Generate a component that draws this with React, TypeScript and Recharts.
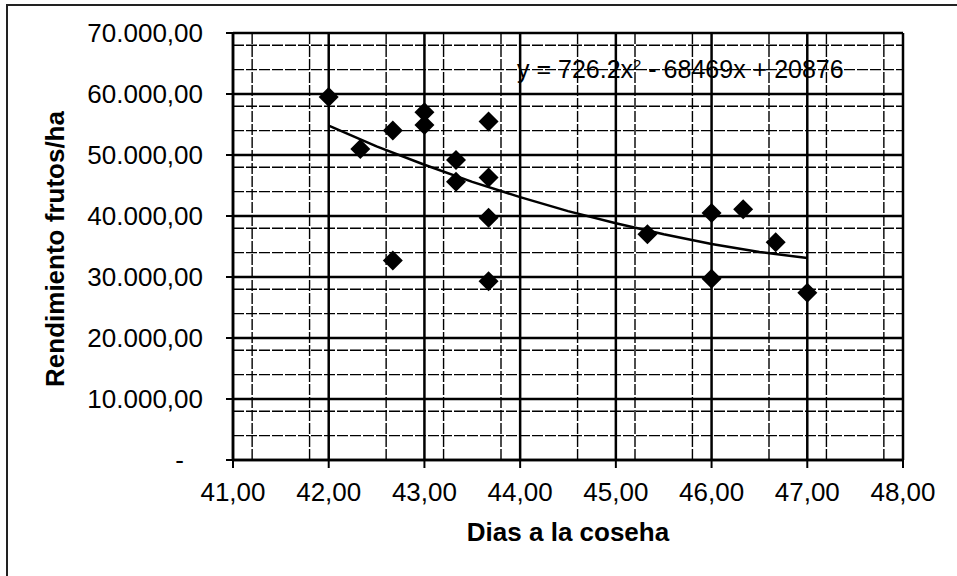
import React from "react";
import { CartesianGrid, Scatter, ScatterChart, XAxis, YAxis } from "recharts";

// days to harvest vs fruit yield per hectare
const dias = [42.0, 42.33, 42.67, 42.67, 43.0, 43.0, 43.33, 43.33, 43.67, 43.67, 43.67, 43.67, 45.33, 46.0, 46.0, 46.33, 46.67, 47.0];
const rendimiento = [59500, 51000, 54000, 32700, 57000, 54900, 49200, 45600, 55500, 46300, 39700, 29300, 37000, 40500, 29700, 41100, 35700, 27400];

// polynomial trend line as drawn in the original
const tendenciaDias = [42, 42.5, 43, 43.5, 44, 44.5, 45, 45.5, 46, 46.5, 47];
const tendenciaValores = [54800, 51400, 48400, 45600, 43100, 40800, 38800, 37000, 35400, 34100, 33100];

const xTicks = [41, 42, 43, 44, 45, 46, 47, 48];
const yTicks = [0, 10000, 20000, 30000, 40000, 50000, 60000, 70000];

const puntos = dias.map((d, i) => ({ x: d, y: rendimiento[i] }));
const tendencia = tendenciaDias.map((d, i) => ({ x: d, y: tendenciaValores[i] }));

const minorX: number[] = [];
for (let i = 0; i < 35; i++) {
  const v = Math.round((41 + i * 0.2) * 10) / 10;
  if (!xTicks.includes(v)) minorX.push(v);
}
const minorY: number[] = [];
for (let v = 0; v <= 70000; v += 2000) {
  if (v % 10000 !== 0) minorY.push(v);
}

const FONT = "'Liberation Sans', Arial, sans-serif";

const fmtMiles = (v: number) => String(Math.round(v)).replace(/\B(?=(\d{3})+(?!\d))/g, ".") + ",00";
const fmtDias = (v: number) => v.toFixed(2).replace(".", ",");

function Diamond(props: any) {
  const { cx, cy } = props;
  const r = 10;
  return <polygon points={`${cx},${cy - r} ${cx + r},${cy} ${cx},${cy + r} ${cx - r},${cy}`} fill="#000" />;
}

function YTick(props: any) {
  const { x, y, payload } = props;
  const v = payload.value;
  if (v === 0) {
    return (
      <text x={x - 19} y={y} dy="0.355em" textAnchor="end" fontSize={26} fontFamily={FONT} fill="#000">
        -
      </text>
    );
  }
  return (
    <text x={x} y={y} dy="0.355em" textAnchor="end" fontSize={26} fontFamily={FONT} fill="#000">
      {fmtMiles(v)}
    </text>
  );
}

export default function App() {
  return (
    <div style={{ position: "absolute", left: 0, top: 0, width: 957, height: 576, overflow: "hidden", background: "#fff" }}>
      <div
        style={{
          position: "absolute",
          left: 6,
          top: 4,
          width: 980,
          height: 600,
          borderLeft: "2px solid #222",
          borderTop: "2px solid #222",
        }}
      />
      <ScatterChart width={957} height={576} margin={{ top: 33, right: 54, bottom: 0, left: 0 }}>
        <CartesianGrid horizontalValues={minorY} verticalValues={minorX} stroke="#000" strokeWidth={1.4} strokeDasharray="11 2" />
        <CartesianGrid horizontalValues={yTicks} verticalValues={xTicks} stroke="#000" strokeWidth={2.5} />
        <XAxis
          type="number"
          dataKey="x"
          domain={[41, 48]}
          ticks={xTicks}
          tickFormatter={fmtDias}
          height={116}
          tickSize={8}
          tickMargin={15}
          axisLine={{ stroke: "#000", strokeWidth: 2.5 }}
          tickLine={{ stroke: "#000", strokeWidth: 2 }}
          tick={{ fill: "#000", fontSize: 26, fontFamily: FONT }}
          allowDataOverflow
          label={{
            content: () => (
              <text x={568} y={541} textAnchor="middle" fontSize={26} fontWeight="bold" fontFamily={FONT} fill="#000">
                Dias a la coseha
              </text>
            ),
          }}
        />
        <YAxis
          type="number"
          dataKey="y"
          domain={[0, 70000]}
          ticks={yTicks}
          width={233}
          tickSize={7}
          tickMargin={23}
          axisLine={{ stroke: "#000", strokeWidth: 2.5 }}
          tickLine={{ stroke: "#000", strokeWidth: 2 }}
          tick={<YTick />}
          allowDataOverflow
          label={{
            content: () => (
              <text
                transform="translate(64,249) rotate(-90)"
                textAnchor="middle"
                fontSize={26}
                fontWeight="bold"
                fontFamily={FONT}
                fill="#000"
              >
                Rendimiento frutos/ha
              </text>
            ),
          }}
        />
        <Scatter data={puntos} shape={<Diamond />} isAnimationActive={false} />
        <Scatter
          data={tendencia}
          line={{ stroke: "#000", strokeWidth: 2.5 }}
          lineType="joint"
          shape={() => <g />}
          isAnimationActive={false}
        />
      </ScatterChart>
      <div
        style={{
          position: "absolute",
          left: 517,
          top: 57,
          fontFamily: FONT,
          fontSize: 25,
          lineHeight: "25px",
          color: "#000",
          whiteSpace: "nowrap",
        }}
      >
        y = 726.2x<sup style={{ fontSize: 15, verticalAlign: "top", lineHeight: "15px" }}>2</sup> - 68469x + 20876
      </div>
    </div>
  );
}
